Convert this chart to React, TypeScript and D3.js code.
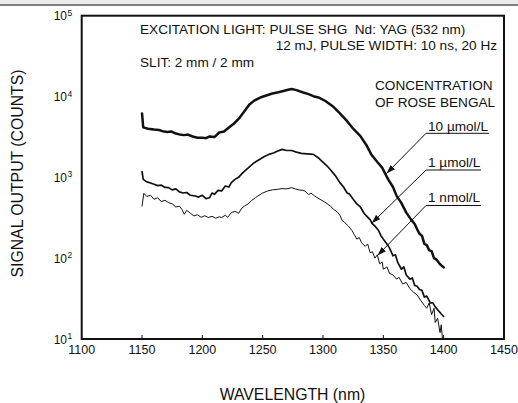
import React from 'react';
import * as d3 from 'd3';

const X_TICKS = [1100, 1150, 1200, 1250, 1300, 1350, 1400, 1450];
const Y_EXPONENTS = [1, 2, 3, 4, 5];

const HEADER_LINES = [
  'EXCITATION LIGHT: PULSE SHG  Nd: YAG (532 nm)',
  '12 mJ, PULSE WIDTH: 10 ns, 20 Hz',
  'SLIT: 2 mm / 2 mm',
];
const LEGEND_TITLE = ['CONCENTRATION', 'OF ROSE BENGAL'];
const SERIES_NAMES = ['10 \u00b5mol/L', '1 \u00b5mol/L', '1 nmol/L'];

// [wavelength nm, counts]
const S_10UM: [number, number][] = [
  [1150, 6170], [1151, 4150], [1155, 4000], [1160, 3900], [1164, 3850], [1167, 3730], [1171, 3650],
  [1174, 3700], [1178, 3480], [1181, 3400], [1185, 3330], [1188, 3380], [1192, 3200], [1196, 3090],
  [1200, 3100], [1203, 3050], [1206, 3210], [1210, 3150], [1214, 3590], [1218, 3700], [1222, 4140],
  [1226, 4600], [1231, 5500], [1235, 6600], [1239, 7960], [1243, 8900], [1248, 9720], [1253, 10300],
  [1258, 10900], [1263, 11300], [1268, 11800], [1271, 12100], [1274, 12400], [1278, 12000],
  [1283, 11300], [1288, 10700], [1292, 10100], [1297, 9640], [1302, 8800], [1308, 7590], [1314, 6200],
  [1320, 4950], [1325, 4000], [1331, 3240], [1336, 2500], [1340, 1920], [1345, 1550], [1349, 1320],
  [1354, 944], [1358, 760], [1361, 590], [1365, 480], [1369, 366], [1373, 300], [1376, 265],
  [1378, 228], [1380, 200], [1382, 190], [1384, 150], [1386, 145], [1388, 125], [1390, 122],
  [1392, 100], [1394, 96], [1397, 84], [1400, 77],
];

const S_1UM: [number, number][] = [
  [1150, 1175], [1151, 944], [1154, 880], [1157, 850], [1160, 820], [1163, 790], [1166, 800],
  [1169, 750], [1172, 746], [1175, 700], [1178, 720], [1181, 660], [1184, 640], [1187, 650],
  [1190, 600], [1194, 588], [1197, 570], [1200, 600], [1203, 546], [1206, 560], [1208, 640],
  [1210, 617], [1213, 690], [1216, 680], [1219, 781], [1222, 760], [1224, 860], [1227, 944],
  [1230, 1000], [1233, 1120], [1235, 1197], [1239, 1350], [1243, 1518], [1247, 1650], [1251, 1800],
  [1255, 1923], [1259, 2000], [1262, 2100], [1266, 2217], [1270, 2150], [1274, 2150], [1278, 2050],
  [1282, 1977], [1287, 1950], [1292, 1923], [1296, 1750], [1299, 1590], [1303, 1400], [1306, 1250],
  [1310, 1059], [1314, 860], [1317, 760], [1320, 640], [1322, 620], [1325, 535], [1328, 470],
  [1331, 430], [1334, 360], [1336, 333], [1339, 300], [1341, 265], [1343, 250], [1346, 220],
  [1348, 190], [1350, 172], [1353, 150], [1355, 135], [1358, 107], [1360, 110], [1362, 88],
  [1365, 73], [1367, 78], [1369, 62], [1372, 55], [1374, 57], [1376, 46], [1378, 45], [1380, 41],
  [1382, 40], [1384, 33], [1386, 34], [1389, 28], [1391, 28], [1393, 25], [1395, 23], [1398, 20.4],
  [1400, 19],
];

const S_1NM: [number, number][] = [
  [1150, 442], [1151.5, 634], [1154, 580], [1157, 600], [1160, 535], [1163, 560], [1166, 500],
  [1169, 520], [1172, 487], [1175, 470], [1178, 430], [1181, 440], [1183, 403], [1185, 349],
  [1187, 390], [1190, 360], [1193, 333], [1196, 345], [1199, 320], [1202, 335], [1205, 318],
  [1208, 330], [1211, 312], [1214, 325], [1216, 318], [1219, 340], [1221, 320], [1224, 366],
  [1227, 380], [1230, 360], [1233, 420], [1235, 442], [1238, 470], [1241, 520], [1244, 560],
  [1246, 588], [1250, 640], [1254, 678], [1258, 700], [1262, 710], [1266, 725], [1270, 720],
  [1274, 746], [1277, 720], [1280, 700], [1283, 690], [1285, 678], [1288, 610], [1290, 640],
  [1293, 588], [1297, 540], [1301, 500], [1306, 442], [1309, 400], [1312, 370], [1314, 340],
  [1316, 290], [1318, 276], [1321, 250], [1324, 220], [1326, 195], [1328, 172], [1330, 180],
  [1332, 155], [1335, 140], [1337, 150], [1339, 117], [1341, 120], [1343, 100], [1345, 110],
  [1347, 85], [1349, 90], [1350, 73], [1353, 78], [1355, 65], [1358, 62], [1361, 55], [1363, 58],
  [1366, 48], [1369, 50], [1372, 42], [1375, 38], [1378, 35], [1381, 30], [1384, 26], [1386, 24],
  [1388, 28], [1390, 20], [1392, 24], [1393, 16], [1395, 18], [1397, 12], [1398, 15], [1399, 10],
];

const W = 518;
const H = 403;
const FONT = '"Liberation Sans", Arial, Helvetica, sans-serif';

export default function App() {
  const left = 81.7, right = 504, top = 15.7, bottom = 339;
  const x = d3.scaleLinear().domain([1100, 1450]).range([left, right]);
  const y = d3.scaleLog().domain([10, 1e5]).range([bottom, top]);
  const line = d3
    .line<[number, number]>()
    .x((d) => x(d[0]))
    .y((d) => y(d[1]));

  const series = [
    { data: S_10UM, w: 2.5 },
    { data: S_1UM, w: 1.7 },
    { data: S_1NM, w: 1 },
  ];

  // annotation layout: [text x, baseline, underline y, underline x0, x1, arrow tip x, tip y]
  const ann = [
    { tx: 428, ty: 130.5, uy: 133.3, ux0: 426, ux1: 489, ax: 386.5, ay: 173.5 },
    { tx: 428, ty: 166.5, uy: 170, ux0: 426, ux1: 481, ax: 371.7, ay: 223.3 },
    { tx: 428, ty: 202, uy: 205.5, ux0: 426, ux1: 481, ax: 377.5, ay: 255.5 },
  ];

  return (
    <svg
      width={W}
      height={H}
      style={{ position: 'absolute', left: 0, top: 0, background: '#fff' }}
      fontFamily={FONT}
    >
      <defs>
        <marker id="arr" markerUnits="userSpaceOnUse" markerWidth={9} markerHeight={6} refX={9} refY={3} orient="auto">
          <path d="M0,0 L9,3 L0,6 Z" fill="#111" />
        </marker>
      </defs>
      <rect x={0} y={0} width={W} height={H} fill="#fff" />
      <rect x={0} y={0} width={W} height={4.5} fill="#ececec" />
      <line x1={0} x2={W} y1={5} y2={5} stroke="#555" strokeWidth={1.6} />

      {/* frame */}
      <rect x={left} y={top} width={right - left} height={bottom - top} fill="none" stroke="#111" strokeWidth={2} />

      {/* x ticks */}
      {X_TICKS.map((t) => (
        <g key={t}>
          {t > 1100 && t < 1450 && (
            <line x1={x(t)} x2={x(t)} y1={bottom} y2={bottom - 4} stroke="#111" strokeWidth={1} />
          )}
          <text x={x(t)} y={354} textAnchor="middle" fontSize={12.5} fill="#111">
            {t}
          </text>
        </g>
      ))}

      {/* y tick labels */}
      {Y_EXPONENTS.map((e) => {
        const yy = y(Math.pow(10, e));
        return (
          <g key={e}>
            <text x={67} y={yy + 4.5} textAnchor="end" fontSize={12} fill="#111">
              10
            </text>
            <text x={67.5} y={yy} textAnchor="start" fontSize={8.5} fill="#111">
              {e}
            </text>
          </g>
        );
      })}

      {/* axis titles */}
      <text x={292.5} y={400} textAnchor="middle" fontSize={15.8} fill="#111">
        WAVELENGTH (nm)
      </text>
      <text
        transform={`translate(23.3,173.5) rotate(-90)`}
        textAnchor="middle"
        fontSize={15.8}
        fill="#111"
      >
        SIGNAL OUTPUT (COUNTS)
      </text>

      {/* curves */}
      {series.map((s, i) => (
        <path
          key={i}
          d={line(s.data) || ''}
          fill="none"
          stroke="#111"
          strokeWidth={s.w}
          strokeLinejoin="round"
          strokeLinecap="round"
        />
      ))}

      {/* header text */}
      <text x={140} y={33.5} fontSize={13.6} fill="#111" style={{ whiteSpace: 'pre' }}>
        {HEADER_LINES[0]}
      </text>
      <text x={497} y={50} fontSize={13.6} fill="#111" textAnchor="end" style={{ whiteSpace: 'pre' }}>
        {HEADER_LINES[1]}
      </text>
      <text x={140} y={66.7} fontSize={13.6} fill="#111" style={{ whiteSpace: 'pre' }}>
        {HEADER_LINES[2]}
      </text>

      {/* legend */}
      <text x={375} y={90} fontSize={13.6} fill="#111">
        {LEGEND_TITLE[0]}
      </text>
      <text x={375} y={106.6} fontSize={13.6} fill="#111">
        {LEGEND_TITLE[1]}
      </text>
      {ann.map((a, i) => (
        <g key={i}>
          <text x={a.tx} y={a.ty} fontSize={13.6} fill="#111">
            {SERIES_NAMES[i]}
          </text>
          <line x1={a.ux0} x2={a.ux1} y1={a.uy} y2={a.uy} stroke="#111" strokeWidth={1} />
          <line
            x1={a.ux0}
            y1={a.uy}
            x2={a.ax}
            y2={a.ay}
            stroke="#111"
            strokeWidth={1}
            markerEnd="url(#arr)"
          />
        </g>
      ))}
    </svg>
  );
}
